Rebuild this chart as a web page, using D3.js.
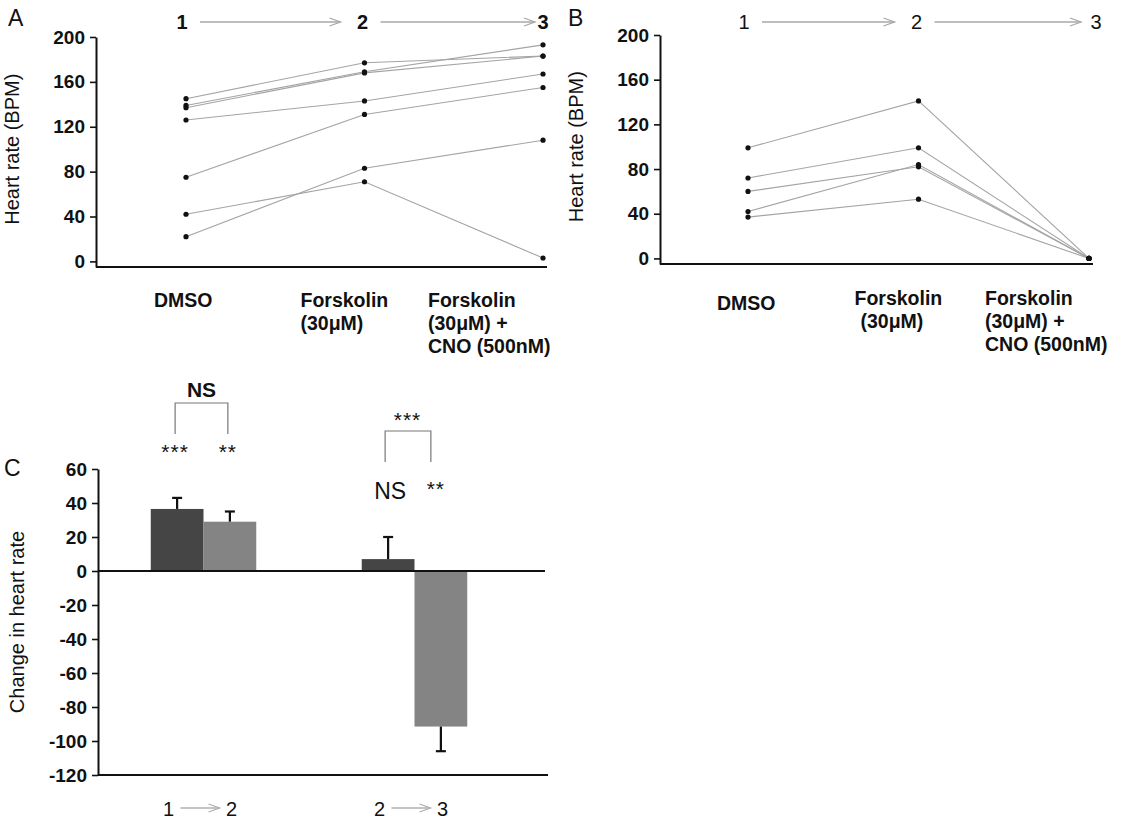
<!DOCTYPE html>
<html>
<head>
<meta charset="utf-8">
<script src="https://cdn.jsdelivr.net/npm/d3@7"></script>
<style>
  body { margin: 0; background: #fff; }
  svg text { font-family: "Liberation Sans", Arial, sans-serif; fill: #111; }
  .tick-lbl { font-size: 19px; font-weight: bold; }
  .ytitle { font-size: 20px; }
  .panel { font-size: 23px; }
  .cat { font-size: 19.5px; font-weight: bold; }
</style>
</head>
<body>
<div id="chart"></div>
<script>
(function () {
  "use strict";

  // ── Data ──────────────────────────────────────────
  const steps = ["1", "2", "3"];
  const treatmentLines = [
    ["DMSO"],
    ["Forskolin", "(30\u03bcM)"],
    ["Forskolin", "(30\u03bcM) +", "CNO (500nM)"]
  ];
  const hrTicks = [0, 40, 80, 120, 160, 200];

  // panel A: one entry per animal
  const aStep1 = [145, 139, 137, 126, 75, 22, 42];
  const aStep2 = [177, 169, 168, 143, 131, 83, 71];
  const aStep3 = [183, 193, 183, 167, 155, 108, 3];

  // panel B
  const bStep1 = [99, 72, 60, 42, 37];
  const bStep2 = [141, 99, 82, 84, 53];
  const bStep3 = [0, 0, 0, 0, 0];

  // panel C
  const changeGroups = ["1-2", "2-3"];
  const changeFrom = ["1", "2"];
  const changeTo = ["2", "3"];
  const darkMean = [36.5, 7];
  const darkErr = [6.5, 13];
  const lightMean = [29, -91.5];
  const lightErr = [6, 14.5];
  const changeTicks = [60, 40, 20, 0, -20, -40, -60, -80, -100, -120];

  const W = 1134, H = 822;
  const svg = d3.select("#chart").append("svg")
    .attr("width", W).attr("height", H);

  // ── Helpers ───────────────────────────────────────
  function grayArrow(g, x1, x2, y, col) {
    g.append("line").attr("x1", x1).attr("x2", x2).attr("y1", y).attr("y2", y)
      .attr("stroke", col).attr("stroke-width", 1.3);
    g.append("path")
      .attr("d", `M${x2 - 11},${y - 4}L${x2},${y}L${x2 - 11},${y + 4}`)
      .attr("fill", "none").attr("stroke", col).attr("stroke-width", 1.3);
  }

  function yAxis(g, scale, x0, ticks) {
    const ax = d3.axisLeft(scale).tickValues(ticks).tickSize(6).tickSizeOuter(0).tickPadding(5)
      .tickFormat(d => String(d));   // plain hyphen, like the original
    const ga = g.append("g").attr("transform", `translate(${x0},0)`).call(ax);
    ga.select(".domain").attr("stroke", "#111").attr("stroke-width", 2);
    ga.selectAll(".tick line").attr("stroke", "#111").attr("stroke-width", 1.6);
    ga.selectAll(".tick text").attr("class", "tick-lbl").attr("font-size", null)
      .attr("font-family", null).attr("fill", "#111");
    return ga;
  }

  function hrPanel(opt) {
    const g = svg.append("g");
    const x = d3.scalePoint().domain([0, 1, 2]).range(opt.xr);
    const y = d3.scaleLinear().domain([-5, 200]).range(opt.yr);

    yAxis(g, y, opt.axisX, hrTicks);
    // baseline
    g.append("line").attr("x1", opt.axisX).attr("x2", opt.axisEnd)
      .attr("y1", y(-5)).attr("y2", y(-5))
      .attr("stroke", "#111").attr("stroke-width", 2.2);

    // panel letter + y title
    g.append("text").attr("class", "panel").attr("x", opt.letterX).attr("y", 26).text(opt.letter);
    g.append("text").attr("class", "ytitle")
      .attr("transform", `translate(${opt.axisX - 77},${y(100)}) rotate(-90)`)
      .attr("text-anchor", "middle").text("Heart rate (BPM)");

    // step numbers & arrows
    steps.forEach((s, i) => {
      g.append("text").attr("x", x(i) + opt.stepOff[i]).attr("y", 29)
        .attr("text-anchor", "middle")
        .attr("font-size", 20).attr("font-weight", opt.boldSteps ? "bold" : "normal")
        .text(s);
    });
    grayArrow(g, x(0) + 14, x(1) - 24, 22, "#a8a8a8");
    grayArrow(g, x(1) + 16, x(2) - 8, 22, "#a8a8a8");

    // subject lines
    const subjects = opt.s1.map((v, i) => [v, opt.s2[i], opt.s3[i]]);
    const line = d3.line().x((d, i) => x(i)).y(d => y(d));
    g.selectAll("path.subj").data(subjects).join("path")
      .attr("class", "subj")
      .attr("d", line)
      .attr("fill", "none").attr("stroke", "#a4a4a4").attr("stroke-width", 1.1);
    const pts = subjects.flatMap(s => s.map((v, i) => ({ i, v })));
    g.selectAll("circle").data(pts).join("circle")
      .attr("cx", d => x(d.i)).attr("cy", d => y(d.v)).attr("r", 2.6)
      .attr("fill", "#111");

    // treatment labels
    treatmentLines.forEach((lines, i) => {
      const t = g.append("text").attr("class", "cat")
        .attr("x", x(i) + opt.labOff[i]).attr("y", opt.labY[i]);
      lines.forEach((ln, k) => {
        t.append("tspan").attr("x", x(i) + opt.labOff[i] + (opt.indent[i] && k > 0 ? opt.indent[i] : 0))
          .attr("dy", k === 0 ? 0 : 23).text(ln);
      });
    });
  }

  hrPanel({
    letter: "A", letterX: 8, axisX: 96, axisEnd: 547,
    xr: [186, 543], yr: [267, 37],
    s1: aStep1, s2: aStep2, s3: aStep3, boldSteps: true, stepOff: [-4, -2, 0],
    labOff: [-32, -64, -115], labY: [307, 307, 307], indent: [0, 0, 0]
  });

  hrPanel({
    letter: "B", letterX: 568, axisX: 660, axisEnd: 1093,
    xr: [748, 1089], yr: [264, 35],
    s1: bStep1, s2: bStep2, s3: bStep3, boldSteps: false, stepOff: [-4, -2, 7],
    labOff: [-31, -64, -104], labY: [310, 305, 305], indent: [0, 6, 0]
  });

  // ── Panel C ───────────────────────────────────────
  const gc = svg.append("g");
  const cy = d3.scaleLinear().domain([-120, 60]).range([775, 469]);
  const cx = d3.scaleBand().domain(changeGroups).range([98, 520])
    .paddingInner(0.5).paddingOuter(0.25);
  const sub = d3.scaleBand().domain(["dark", "light"]).range([0, cx.bandwidth()]);

  yAxis(gc, cy, 98, changeTicks);
  gc.append("line").attr("x1", 98).attr("x2", 548).attr("y1", cy(-120)).attr("y2", cy(-120))
    .attr("stroke", "#111").attr("stroke-width", 2.2);

  gc.append("text").attr("class", "panel").attr("x", 4).attr("y", 476).text("C");
  gc.append("text").attr("class", "ytitle").attr("font-size", 21)
    .attr("transform", `translate(24,${cy(-30)}) rotate(-90)`)
    .attr("text-anchor", "middle").text("Change in heart rate");

  const bars = changeGroups.flatMap((g, i) => [
    { g, k: "dark", v: darkMean[i], e: darkErr[i], fill: "#454545" },
    { g, k: "light", v: lightMean[i], e: lightErr[i], fill: "#848484" }
  ]);

  const bx = d => cx(d.g) + sub(d.k);
  gc.selectAll("rect.bar").data(bars).join("rect")
    .attr("class", "bar")
    .attr("x", bx).attr("width", sub.bandwidth())
    .attr("y", d => cy(Math.max(0, d.v)))
    .attr("height", d => Math.abs(cy(d.v) - cy(0)))
    .attr("fill", d => d.fill);

  // error bars, away from zero
  const eb = gc.selectAll("g.err").data(bars).join("g").attr("class", "err");
  const ecx = d => bx(d) + sub.bandwidth() / 2;
  const etip = d => cy(d.v + Math.sign(d.v) * d.e);
  eb.append("line")
    .attr("x1", ecx).attr("x2", ecx)
    .attr("y1", d => cy(d.v)).attr("y2", etip)
    .attr("stroke", "#111").attr("stroke-width", 2.2);
  eb.append("line")
    .attr("x1", d => ecx(d) - 5).attr("x2", d => ecx(d) + 5)
    .attr("y1", etip).attr("y2", etip)
    .attr("stroke", "#111").attr("stroke-width", 2.2);

  // zero line on top of bars
  gc.append("line").attr("x1", 98).attr("x2", 545).attr("y1", cy(0)).attr("y2", cy(0))
    .attr("stroke", "#111").attr("stroke-width", 2);

  // group labels "1 -> 2", "2 -> 3"
  changeGroups.forEach((g, i) => {
    const c = cx(g) + cx.bandwidth() / 2 - 3;
    gc.append("text").attr("x", c - 32).attr("y", 816).attr("text-anchor", "middle")
      .attr("font-size", 20).text(changeFrom[i]);
    gc.append("text").attr("x", c + 31).attr("y", 816).attr("text-anchor", "middle")
      .attr("font-size", 20).text(changeTo[i]);
    grayArrow(gc, c - 20, c + 19, 808, "#b0b0b0");
  });

  // significance marks
  function bracket(x1, x2, top, bottom) {
    gc.append("path")
      .attr("d", `M${x1},${bottom}V${top}H${x2}V${bottom}`)
      .attr("fill", "none").attr("stroke", "#777").attr("stroke-width", 1.2);
  }
  function stars(x, yc, s) {
    gc.append("text").attr("x", x).attr("y", yc + 9).attr("text-anchor", "middle")
      .attr("font-size", 21).attr("fill", "#444").attr("letter-spacing", 1).text(s);
  }
  const c1d = ecx(bars[0]), c1l = ecx(bars[1]);
  const c2d = ecx(bars[2]), c2l = ecx(bars[3]);

  bracket(c1d - 2, c1l - 2, 403, 434);
  gc.append("text").attr("x", (c1d + c1l) / 2 - 2).attr("y", 397).attr("text-anchor", "middle")
    .attr("font-size", 21).attr("font-weight", "bold").text("NS");
  stars(c1d - 2, 450, "***");
  stars(c1l - 2, 450, "**");

  bracket(c2d - 3, c2l - 10, 431, 462);
  stars((c2d + c2l) / 2 - 7, 418, "***");
  gc.append("text").attr("x", c2d + 2).attr("y", 499).attr("text-anchor", "middle")
    .attr("font-size", 23).text("NS");
  stars(c2l - 5, 487, "**");
})();
</script>
</body>
</html>
